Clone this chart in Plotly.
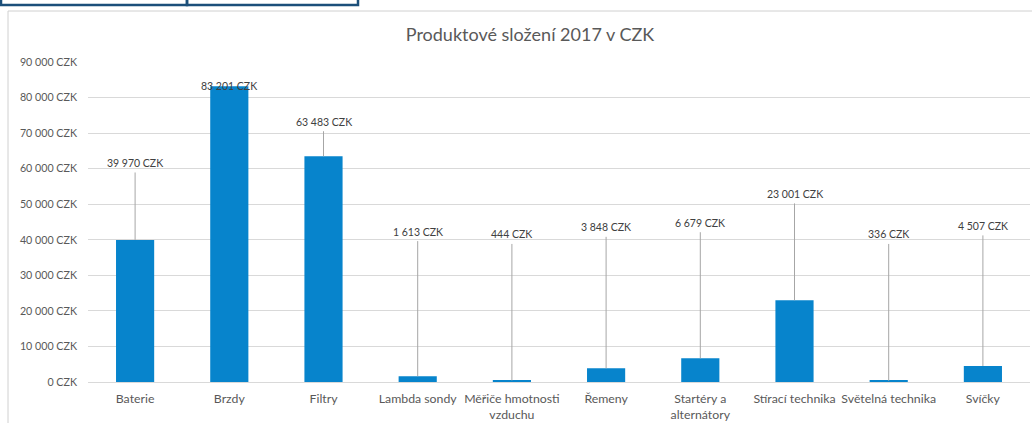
import plotly.graph_objects as go

# Product mix 2017 (CZK)
categories = [
    "Baterie", "Brzdy", "Filtry", "Lambda sondy", "Měřiče hmotnosti<br>vzduchu",
    "Řemeny", "Startéry a<br>alternátory", "Stírací technika", "Světelná technika", "Svíčky",
]
values = [39970, 83201, 63483, 1613, 444, 3848, 6679, 23001, 336, 4507]
y_ticks = [0, 10000, 20000, 30000, 40000, 50000, 60000, 70000, 80000, 90000]

# height (axis units) at which each data label sits; None = label on the bar top
label_heights = [61600, None, 73200, 42300, 41500, 43500, 44800, 52900, 41500, 43900]


def czk(v):
    return f"{v:,}".replace(",", " ") + " CZK"


W, H = 1032, 423
L, R, T, B = 88, 1030, 62, 382  # plot area in pixels

BAR = "#0784CC"
GRID = "#D9D9D9"
TXT = "#595959"
FONT = "Lato"

fig = go.Figure(
    go.Bar(
        x=categories,
        y=values,
        marker=dict(color=BAR, line=dict(width=0)),
        hoverinfo="skip",
    )
)

annotations = []
for cat, v, h in zip(categories, values, label_heights):
    if h is None:
        annotations.append(dict(
            x=cat, y=v, xref="x", yref="y", text=czk(v), showarrow=False,
            font=dict(family=FONT, size=10.5, color="#404040"), yanchor="middle",
        ))
    else:
        annotations.append(dict(
            x=cat, y=v, xref="x", yref="y", ax=cat, ay=h, axref="x", ayref="y",
            text=czk(v), showarrow=True, arrowhead=0, arrowwidth=1,
            arrowcolor="#A6A6A6", standoff=0, startstandoff=2,
            font=dict(family=FONT, size=10.5, color="#404040"),
        ))


def px_x(p):
    return (p - L) / (R - L)


def px_y(p):
    return (B - p) / (B - T)


shapes = [
    # outer chart frame
    dict(type="rect", xref="paper", yref="paper",
         x0=px_x(8), x1=px_x(1045), y0=px_y(440), y1=px_y(11),
         line=dict(color="#D0D0D0", width=1), layer="below"),
    # dark header boxes above the chart
    dict(type="rect", xref="paper", yref="paper",
         x0=px_x(1), x1=px_x(187), y0=px_y(5), y1=px_y(-10),
         line=dict(color="#1B4F7A", width=2.5)),
    dict(type="rect", xref="paper", yref="paper",
         x0=px_x(187), x1=px_x(358), y0=px_y(5), y1=px_y(-10),
         line=dict(color="#1B4F7A", width=2.5)),
]

fig.update_layout(
    width=W, height=H,
    margin=dict(l=L, r=W - R, t=T, b=H - B, autoexpand=False),
    paper_bgcolor="white", plot_bgcolor="white",
    bargap=0.595,
    showlegend=False,
    title=dict(
        text="Produktové složení 2017 v CZK",
        x=530 / W, xref="container", xanchor="center",
        y=1 - 35 / H, yref="container", yanchor="middle",
        font=dict(family=FONT, size=18, color=TXT),
    ),
    xaxis=dict(
        type="category", showgrid=False, showline=True, linecolor=GRID, linewidth=1,
        ticks="", ticklabelstandoff=5, tickangle=0,
        tickfont=dict(family=FONT, size=12.3, color=TXT),
        fixedrange=True,
    ),
    yaxis=dict(
        range=[0, 90000], tickvals=y_ticks, ticktext=[czk(v) for v in y_ticks],
        showgrid=True, gridcolor=GRID, gridwidth=1, zeroline=False,
        showline=False, ticks="", ticklabelstandoff=10,
        tickfont=dict(family=FONT, size=10.7, color=TXT),
        fixedrange=True,
    ),
    annotations=annotations,
    shapes=shapes,
)

fig.write_html("out.html")
